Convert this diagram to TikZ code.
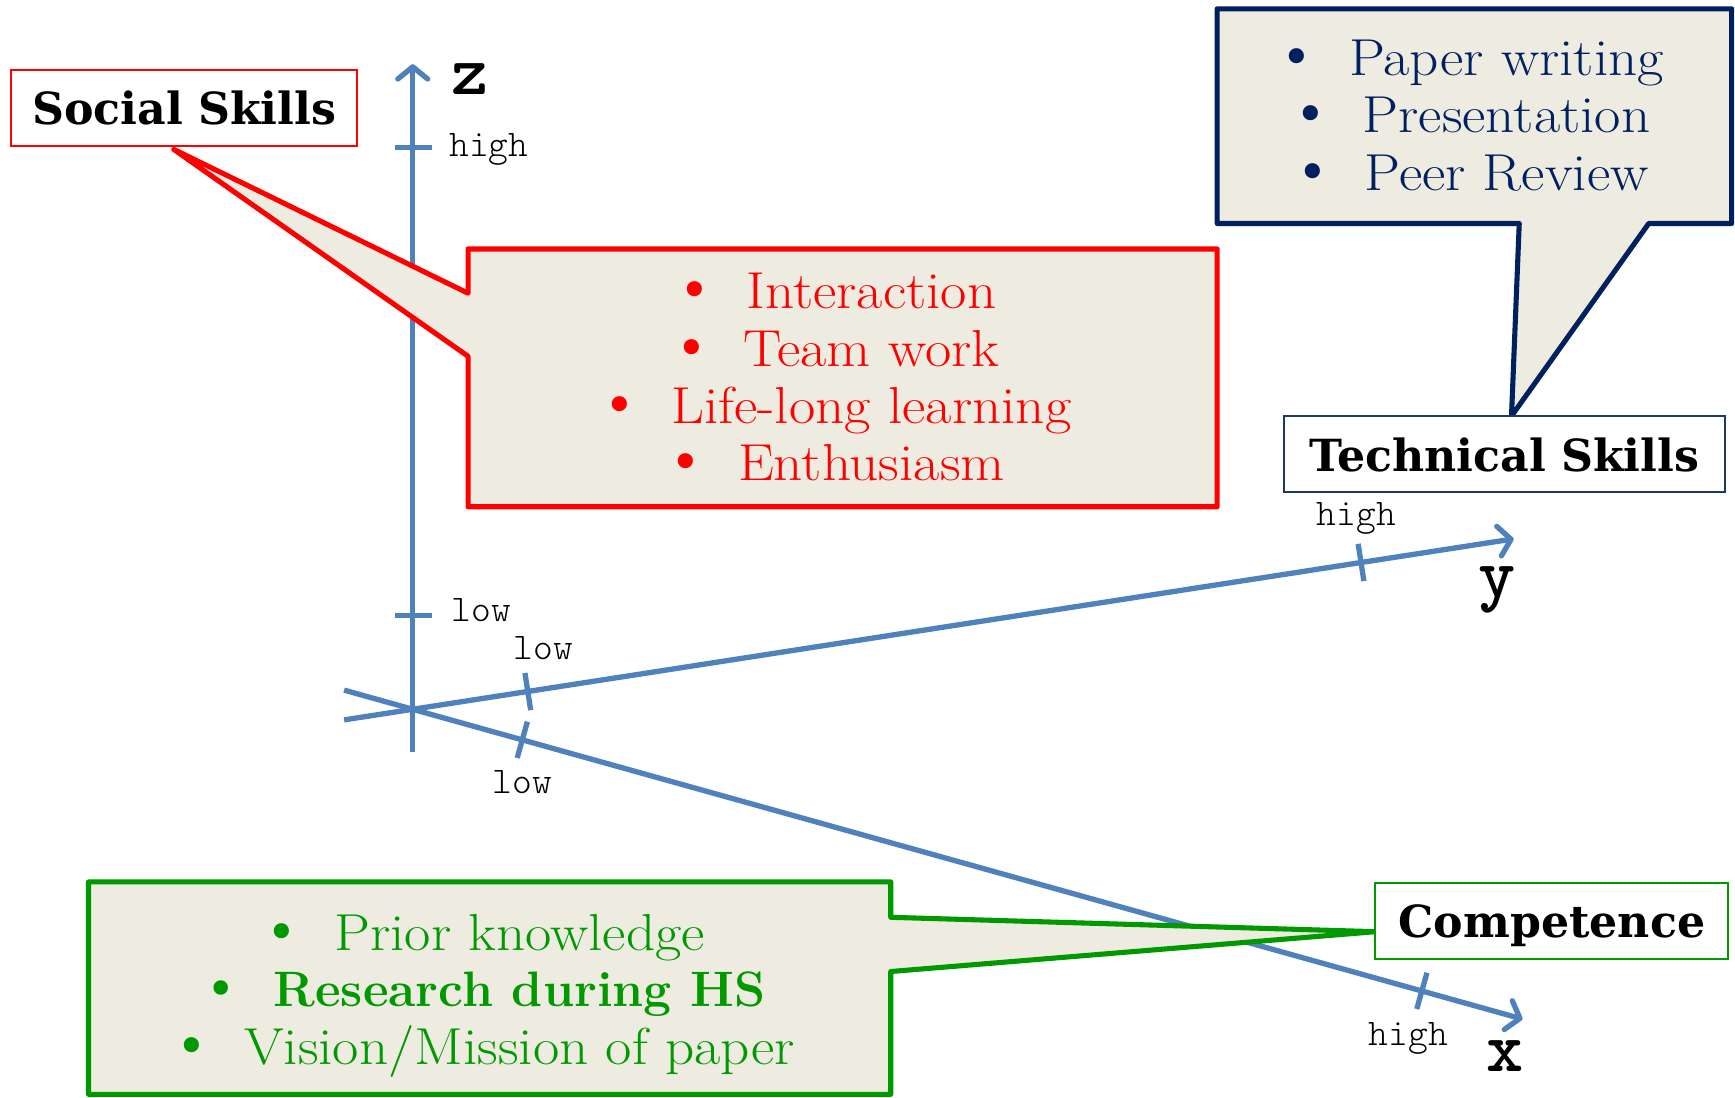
\documentclass[tikz,border=0pt]{standalone}
\usepackage{fontspec}
\newfontfamily\labfont{DejaVu Serif}
\newfontfamily\bltfont{DejaVu Sans}
\usetikzlibrary{arrows.meta}
\definecolor{axisblue}{RGB}{79,129,189}
\definecolor{beige}{RGB}{238,236,225}
\definecolor{redc}{RGB}{255,0,0}
\definecolor{navyc}{RGB}{0,32,96}
\definecolor{navybox}{RGB}{31,56,100}
\definecolor{greenc}{RGB}{0,153,0}
\newcommand\blt[1]{\makebox[0pt]{\bltfont •}\hspace{47pt}\scalebox{1.1}[1]{#1}}
\newcommand\bltb[1]{\makebox[0pt]{\bltfont\mdseries •}\hspace{47pt}#1}
\tikzset{
  axis/.style={draw=axisblue, line width=4.8pt},
  axarrow/.style={axis, -{Straight Barb[length=11pt,width=27pt,round]}},
  tickl/.style={font=\ttfamily\fontseries{l}\fontsize{34}{36}\selectfont, anchor=base west, inner sep=0pt},
  axl/.style={font=\ttfamily\bfseries\fontsize{64}{66}\selectfont, anchor=base, inner sep=0pt},
  callout/.style={line width=4.6pt, fill=beige, line join=round},
  lbl/.style={font=\labfont\bfseries\fontsize{40}{44}\selectfont, text depth=0pt, fill=white, line width=1.8pt, inner sep=0pt, minimum height=69pt},
  lst/.style={font=\fontsize{47}{52}\selectfont, anchor=base, inner sep=0pt}
}
\begin{document}
\begin{tikzpicture}[x=1pt,y=-1pt]
\useasboundingbox[fill=white] (0,0) rectangle (1568,992);
% axes
\coordinate (O) at (373,641);
\coordinate (zs) at (373,680);
\coordinate (ze) at (373,58);
\coordinate (ys) at (311,650.6);
\coordinate (ye) at (1368,487);
\coordinate (xs) at (311,623.7);
\coordinate (xe) at (1376,921);
\draw[axarrow] (zs) -- (ze);
\draw[axarrow] (ys) -- (ye);
\draw[axarrow] (xs) -- (xe);
% ticks
\draw[axis] (357,133) -- (390,133);
\draw[axis] (357,556) -- (390,556);
\draw[axis] (474.4,608.2) -- (479.6,641.8);
\draw[axis] (1227.4,491.5) -- (1232.6,525.1);
\draw[axis] (467.4,685) -- (476.6,652.2);
\draw[axis] (1280.4,911.9) -- (1289.6,879.1);
% tick labels
\node[tickl] (zhigh) at (406,141) {high};
\node[tickl] (zlow) at (408,562) {low};
\node[tickl] (ylow) at (464,596) {low};
\node[tickl] (yhigh) at (1190,475) {high};
\node[tickl] (xlow) at (445,717) {low};
\node[tickl] (xhigh) at (1237,945) {high};
% axis names
\node[axl] (zl) at (425,85) {z};
\node[axl] (yl) at (1353,540) {y};
\node[axl] (xl) at (1360,968) {x};
% callouts
\coordinate (rtip) at (157,135);
\coordinate (ntip) at (1366,376);
\coordinate (gtip) at (1243,842);
\draw[callout, draw=redc] (423,225) -- (1100,225) -- (1100,458) -- (423,458) -- (423,322) -- (rtip) -- (423,265) -- cycle;
\draw[callout, draw=navyc] (1100,8) -- (1565,8) -- (1565,202) -- (1490,202) -- (ntip) -- (1373,202) -- (1100,202) -- cycle;
\draw[callout, draw=greenc] (80,797) -- (805,797) -- (805,829) -- (gtip) -- (805,878) -- (805,989) -- (80,989) -- cycle;
% label boxes
\node[lbl, draw=redc, minimum width=313pt] (ss) at (166.5,97.5) {Social Skills};
\node[lbl, draw=navybox, minimum width=399pt] (ts) at (1359.5,410.5) {Technical Skills};
\node[lbl, draw=greenc, minimum width=319pt] (cp) at (1402.5,832.5) {Competence};
% lists
\node[lst, text=redc] (r1) at (764,279) {\blt{Interaction}};
\node[lst, text=redc] (r2) at (764,331) {\blt{Team work}};
\node[lst, text=redc] (r3) at (764,383) {\blt{Life-long learning}};
\node[lst, text=redc] (r4) at (764,434.5) {\blt{Enthusiasm}};
\node[lst, text=navyc] (n1) at (1338,68) {\blt{Paper writing}};
\node[lst, text=navyc] (n2) at (1338,120) {\blt{Presentation}};
\node[lst, text=navyc] (n3) at (1338,172) {\blt{Peer Review}};
\node[lst, text=greenc] (g1) at (446,858.6) {\blt{Prior knowledge}};
\node[lst, text=greenc, font=\fontsize{45}{52}\selectfont\bfseries] (g2) at (446,910) {\bltb{Research during HS}};
\node[lst, text=greenc] (g3) at (446,961.6) {\blt{Vision/Mission of paper}};
\end{tikzpicture}
\end{document}
